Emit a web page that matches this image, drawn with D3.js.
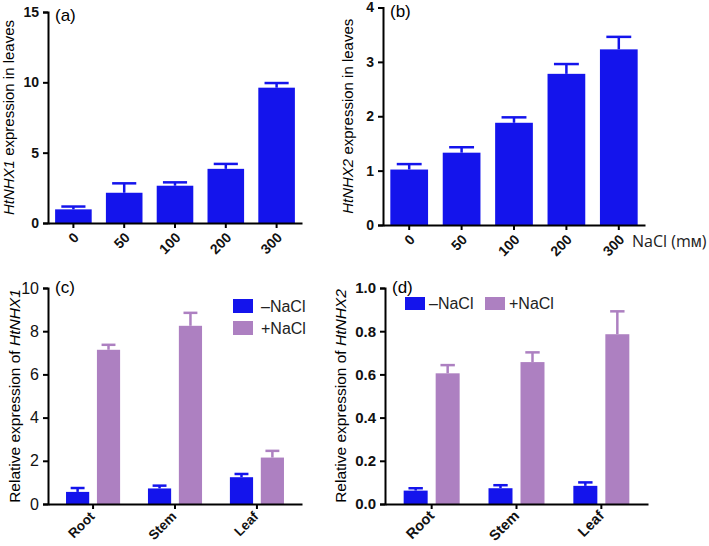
<!DOCTYPE html>
<html>
<head>
<meta charset="utf-8">
<script src="https://cdn.jsdelivr.net/npm/d3@7"></script>
<style>
  body { margin: 0; background: #fff; }
  svg { font-family: "Liberation Sans", Arial, sans-serif; }
  .axis path, .axis line { stroke: #000; stroke-width: 2px; }
  .axis text { font-size: 14px; font-weight: bold; fill: #111; }
</style>
</head>
<body>
<svg id="chart" width="709" height="546"></svg>
<script>
// data
const nacl = ["0", "50", "100", "200", "300"];
const nhx1Leaves = [0.97, 2.15, 2.65, 3.85, 9.62];
const nhx1LeavesErr = [0.2, 0.67, 0.24, 0.35, 0.33];
const nhx2Leaves = [1.02, 1.33, 1.88, 2.78, 3.23];
const nhx2LeavesErr = [0.1, 0.1, 0.1, 0.18, 0.23];

const organs = ["Root", "Stem", "Leaf"];
const treatments = ["–NaCl", "+NaCl"];
const nhx1Minus = [0.56, 0.72, 1.24];
const nhx1MinusErr = [0.18, 0.13, 0.15];
const nhx1Plus = [7.14, 8.25, 2.15];
const nhx1PlusErr = [0.23, 0.6, 0.31];
const nhx2Minus = [0.062, 0.073, 0.084];
const nhx2MinusErr = [0.011, 0.014, 0.016];
const nhx2Plus = [0.605, 0.657, 0.786];
const nhx2PlusErr = [0.038, 0.045, 0.106];

const blue = "#1414ec";
const purple = "#ad80c1";

const svg = d3.select("#chart");

// slanted category labels (-45deg), the end of the word sits under the tick
function slantLabels(g, scale, cats, base, dx, dy, size) {
  g.append("g").selectAll("text").data(cats).join("text")
    .attr("transform", d => `translate(${scale(d) + scale.bandwidth() / 2 + dx},${base + dy}) rotate(-45)`)
    .attr("text-anchor", "end")
    .attr("dy", "0.35em")
    .attr("font-size", size)
    .attr("font-weight", "bold")
    .attr("fill", "#111")
    .text(d => d);
}

// simple bar panel (a, b)
function singlePanel(opt) {
  let g = svg.append("g");
  let x = d3.scaleBand().domain(nacl).range([opt.x0, opt.x1])
    .paddingInner(0.28).paddingOuter(0.14);
  let y = d3.scaleLinear().domain([0, opt.max]).range([opt.bottom, opt.top]);

  let data = nacl.map((c, i) => ({ c: c, v: opt.values[i], e: opt.errs[i] }));

  // error bars first so the bar covers the lower part
  let eb = g.selectAll(".err").data(data).join("g").attr("class", "err")
    .attr("stroke", blue).attr("stroke-width", 2.5);
  eb.append("line")
    .attr("x1", d => x(d.c) + x.bandwidth() / 2).attr("x2", d => x(d.c) + x.bandwidth() / 2)
    .attr("y1", d => y(d.v)).attr("y2", d => y(d.v + d.e));
  eb.append("line")
    .attr("x1", d => x(d.c) + x.bandwidth() * 0.17).attr("x2", d => x(d.c) + x.bandwidth() * 0.83)
    .attr("y1", d => y(d.v + d.e)).attr("y2", d => y(d.v + d.e));

  g.selectAll(".bar").data(data).join("rect").attr("class", "bar")
    .attr("x", d => x(d.c)).attr("width", x.bandwidth())
    .attr("y", d => y(d.v)).attr("height", d => y(0) - y(d.v))
    .attr("fill", blue);

  g.append("g").attr("class", "axis")
    .attr("transform", `translate(${opt.x0},0)`)
    .call(d3.axisLeft(y).ticks(opt.ticks).tickSize(5).tickSizeOuter(5).tickPadding(4));

  g.append("g").attr("class", "axis")
    .attr("transform", `translate(0,${opt.bottom})`)
    .call(d3.axisBottom(x).tickSize(5).tickSizeOuter(0).tickFormat(""));
  slantLabels(g, x, nacl, opt.bottom, 3, 12, 14);

  g.append("text").attr("x", opt.x0 + 7).attr("y", opt.top + 9)
    .attr("font-size", 17).text(opt.tag);

  let lab = g.append("text")
    .attr("transform", `translate(${opt.labX},${(opt.top + opt.bottom) / 2}) rotate(-90)`)
    .attr("text-anchor", "middle").attr("font-size", 15);
  lab.append("tspan").attr("font-style", "italic").text(opt.gene);
  lab.append("tspan").text(" expression in leaves");
  return g;
}

function groupPanel(opt) {
  let g = svg.append("g");
  let x0 = d3.scaleBand().domain(organs).range([opt.x0, opt.x1])
    .paddingInner(0.34).paddingOuter(0.22);
  let x1 = d3.scaleBand().domain(treatments).range([0, x0.bandwidth()]).paddingInner(0.25);
  let y = d3.scaleLinear().domain([0, opt.max]).range([opt.bottom, opt.top]);
  let color = d3.scaleOrdinal().domain(treatments).range([blue, purple]);

  let data = [];
  organs.forEach((o, i) => {
    data.push({ o: o, t: treatments[0], v: opt.minus[i], e: opt.minusErr[i] });
    data.push({ o: o, t: treatments[1], v: opt.plus[i], e: opt.plusErr[i] });
  });
  let bx = d => x0(d.o) + x1(d.t);

  let eb = g.selectAll(".err").data(data).join("g").attr("class", "err")
    .attr("stroke", d => color(d.t)).attr("stroke-width", 2.5);
  eb.append("line")
    .attr("x1", d => bx(d) + x1.bandwidth() / 2).attr("x2", d => bx(d) + x1.bandwidth() / 2)
    .attr("y1", d => y(d.v)).attr("y2", d => y(d.v + d.e));
  eb.append("line")
    .attr("x1", d => bx(d) + x1.bandwidth() * 0.2).attr("x2", d => bx(d) + x1.bandwidth() * 0.8)
    .attr("y1", d => y(d.v + d.e)).attr("y2", d => y(d.v + d.e));

  g.selectAll(".bar").data(data).join("rect").attr("class", "bar")
    .attr("x", bx).attr("width", x1.bandwidth())
    .attr("y", d => y(d.v)).attr("height", d => y(0) - y(d.v))
    .attr("fill", d => color(d.t));

  let ya = g.append("g").attr("class", "axis")
    .attr("transform", `translate(${opt.x0},0)`)
    .call(d3.axisLeft(y).ticks(5).tickFormat(opt.fmt).tickSize(5).tickSizeOuter(5).tickPadding(4));
  ya.selectAll("text").style("font-size", opt.ySize + "px")
    .style("font-weight", opt.boldY ? "bold" : "normal");

  g.append("g").attr("class", "axis")
    .attr("transform", `translate(0,${opt.bottom})`)
    .call(d3.axisBottom(x0).tickSize(5).tickSizeOuter(0).tickFormat(""));
  slantLabels(g, x0, organs, opt.bottom, opt.labDx, opt.labDy, opt.catSize);

  g.append("text").attr("x", opt.x0 + 7).attr("y", opt.top + 5)
    .attr("font-size", 17).text(opt.tag);

  let lab = g.append("text")
    .attr("transform", `translate(${opt.labX},${(opt.top + opt.bottom) / 2}) rotate(-90)`)
    .attr("text-anchor", "middle").attr("font-size", 15.5);
  lab.append("tspan").text("Relative expression of ");
  lab.append("tspan").attr("font-style", "italic").text(opt.gene);

  let leg = g.selectAll(".leg").data(treatments).join("g").attr("class", "leg")
    .attr("transform", (d, i) => `translate(${opt.legX[i]},${opt.legY[i]})`);
  leg.append("rect").attr("width", 20).attr("height", opt.swH).attr("fill", d => color(d));
  leg.append("text").attr("x", opt.legDx).attr("y", opt.swH / 2).attr("dy", "0.36em")
    .attr("font-size", 16).attr("fill", "#222").text(d => d);
}

singlePanel({
  x0: 48, x1: 302, top: 12, bottom: 223, max: 15, ticks: 3,
  values: nhx1Leaves, errs: nhx1LeavesErr, tag: "(a)", gene: "HtNHX1", labX: 14
});
singlePanel({
  x0: 383, x1: 645, top: 7.5, bottom: 225, max: 4, ticks: 4,
  values: nhx2Leaves, errs: nhx2LeavesErr, tag: "(b)", gene: "HtNHX2", labX: 353
});

svg.append("text").attr("x", 632).attr("y", 247).attr("font-size", 16)
  .attr("font-family", "'Open Sans', sans-serif").attr("fill", "#222")
  .text("NaCl (mᴍ)");

groupPanel({
  x0: 48, x1: 302, top: 288, bottom: 504, max: 10, fmt: d3.format("d"), boldY: false, ySize: 16,
  minus: nhx1Minus, minusErr: nhx1MinusErr, plus: nhx1Plus, plusErr: nhx1PlusErr,
  tag: "(c)", gene: "HtNHX1", labX: 20, labDx: -1, labDy: 10, catSize: 13.5,
  legX: [233, 233], legY: [299, 321], swH: 14, legDx: 28
});
groupPanel({
  x0: 385, x1: 648, top: 288, bottom: 504, max: 1, fmt: d3.format(".1f"), boldY: true, ySize: 15,
  minus: nhx2Minus, minusErr: nhx2MinusErr, plus: nhx2Plus, plusErr: nhx2PlusErr,
  tag: "(d)", gene: "HtNHX2", labX: 346, labDx: 0, labDy: 9, catSize: 14.5,
  legX: [405, 485], legY: [297, 297], swH: 13, legDx: 24
});
</script>
</body>
</html>
